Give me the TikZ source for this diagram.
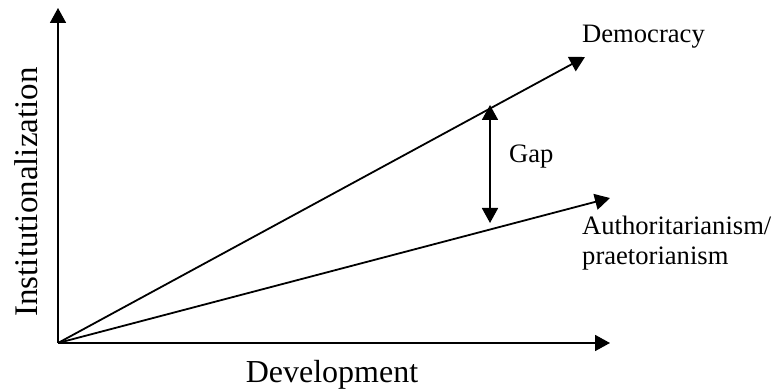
\documentclass[tikz,border=0pt]{standalone}
\usepackage{fontspec}
\setmainfont{Liberation Serif}
\usetikzlibrary{arrows.meta}
\begin{document}
\begin{tikzpicture}[x=1pt,y=-1pt,
  ax/.style={line width=1.8pt,-{Triangle[length=15pt,width=16pt]}},
  dbl/.style={line width=1.8pt,{Triangle[length=15pt,width=16pt]}-{Triangle[length=15pt,width=16pt]}},
  lab/.style={inner sep=0pt,font=\fontsize{26.6}{29.5}\selectfont},
  axlab/.style={inner sep=0pt}]
\useasboundingbox (0,0) rectangle (772,390);
\coordinate (O) at (58,343);
\coordinate (Ytop) at (58,8);
\coordinate (Xend) at (610,343);
\coordinate (Dend) at (585,57);
\coordinate (Aend) at (610,198);
\coordinate (Gtop) at (490,105);
\coordinate (Gbot) at (490,223);
\draw[ax] (O) -- (Ytop);
\draw[ax] (O) -- (Xend);
\draw[ax] (O) -- (Dend);
\draw[ax] (O) -- (Aend);
\draw[dbl] (Gtop) -- (Gbot);
\node[lab,anchor=base west] (dem) at (582,43) {Democracy};
\node[lab,anchor=base west] (gap) at (509,163) {Gap};
\node[lab,anchor=base west] (auth) at (582,235) {\begin{tabular}[t]{@{}l@{}}Authoritarianism/\\praetorianism\end{tabular}};
\node[axlab,font=\fontsize{33}{37}\selectfont,anchor=base,rotate=90] (inst) at (37,192) {Institutionalization};
\node[axlab,font=\fontsize{32}{36}\selectfont,anchor=base] (dev) at (332,382) {Development};
\end{tikzpicture}
\end{document}
